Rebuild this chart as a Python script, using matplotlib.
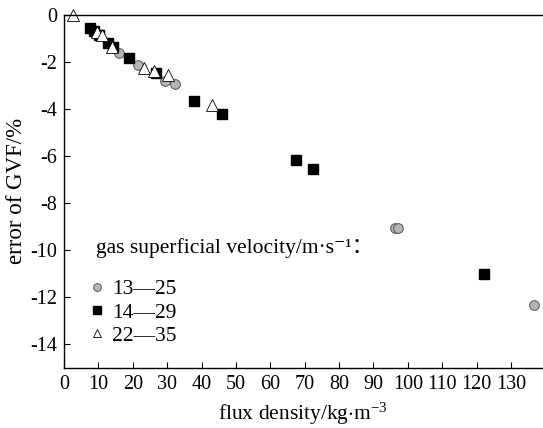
import numpy as np
import matplotlib
matplotlib.use('Agg')
import matplotlib.pyplot as plt

plt.rcParams['font.family'] = ['Liberation Serif', 'DejaVu Serif', 'Noto Sans CJK SC']
plt.rcParams['mathtext.fontset'] = 'custom'
plt.rcParams['mathtext.rm'] = 'Liberation Serif'
plt.rcParams['mathtext.it'] = 'Liberation Serif:italic'
plt.rcParams['axes.unicode_minus'] = False

# series: flux density (kg/m3) vs error of GVF (%)
labels = ['13\u201425', '14\u201429', '22\u201435']

circle_x = [16.1, 21.6, 29.4, 32.3, 96.2, 97.2, 136.6]
circle_y = [-1.63, -2.12, -2.80, -2.92, -9.05, -9.05, -12.35]

square_x = [7.4, 8.6, 10.2, 12.9, 14.3, 19.0, 26.6, 37.8, 45.8, 67.4, 72.4, 122.1]
square_y = [-0.54, -0.68, -0.85, -1.20, -1.37, -1.84, -2.48, -3.66, -4.20, -6.15, -6.53, -11.0]

tri_x = [2.7, 9.6, 11.0, 14.0, 23.3, 26.2, 30.3, 43.1]
tri_y = [0.0, -0.72, -0.85, -1.38, -2.26, -2.40, -2.55, -3.82]

xticks = np.arange(0, 131, 10)
yticks = np.arange(0, -15, -2)

fig = plt.figure(figsize=(5.43, 4.28), dpi=100)
ax = fig.add_axes([0.118, 0.141, 0.880, 0.824])

ax.plot(circle_x, circle_y, 'o', ms=7, mfc='#b4b4b4', mec='#555555', mew=0.7,
        clip_on=False, label=labels[0])
ax.plot(square_x, square_y, 's', ms=6.5, mfc='black', mec='black',
        clip_on=False, label=labels[1])
ax.plot(tri_x, tri_y, '^', ms=8, mfc='white', mec='black', mew=0.6,
        clip_on=False, label=labels[2])

ax.set_xlim(0, 139)
ax.set_ylim(-15, 0)
ax.set_xticks(xticks)
ax.set_yticks(yticks)
ax.tick_params(direction='in', length=4, width=0.8, labelsize=14.5, pad=5)
ax.spines['right'].set_visible(False)
for s in ['left', 'bottom', 'top']:
    ax.spines[s].set_linewidth(1.0)

ax.set_xlabel('flux density/kg$\\cdot$m$^{-3}$', fontsize=15.5, labelpad=5)
ax.set_ylabel('error of GVF/%', fontsize=16.5, labelpad=2)

ax.text(0.067, 0.339, 'gas superficial velocity/m\u00b7s\u207b\u00b9\uff1a',
        transform=ax.transAxes, fontsize=15.5, va='center', ha='left')
ax.legend(loc='upper left', bbox_to_anchor=(0.028, 0.281), frameon=False,
          fontsize=15.5, borderpad=0, handlelength=0.8, handletextpad=0.3,
          labelspacing=0.15, markerscale=0.8)

fig.savefig('out.png', dpi=100)
